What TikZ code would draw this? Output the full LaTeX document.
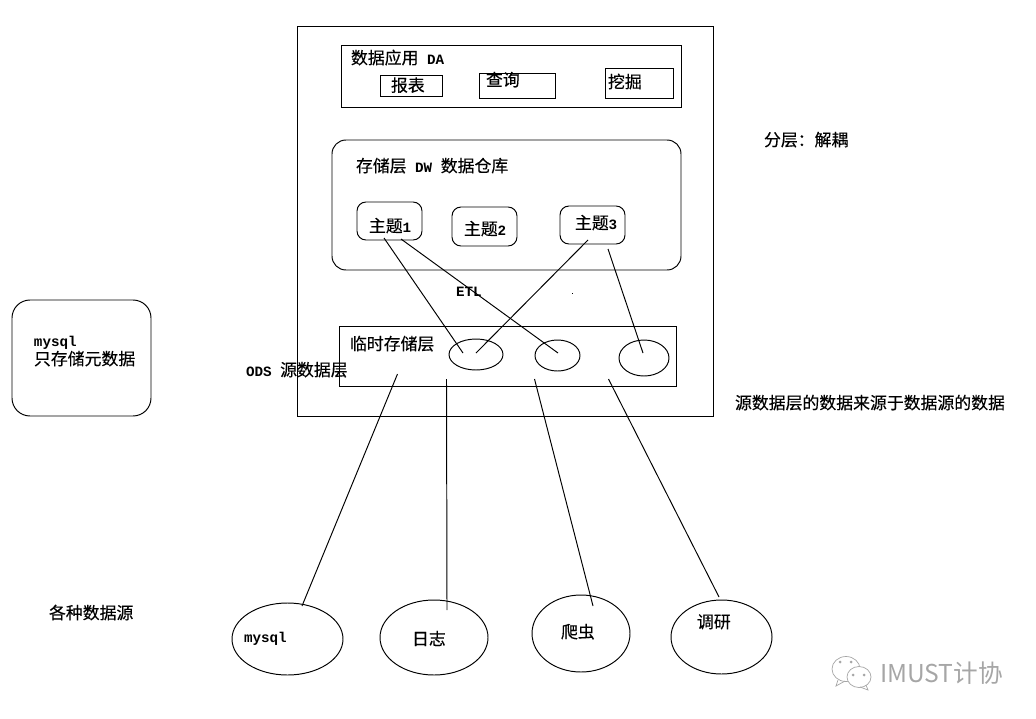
\documentclass[tikz,border=0pt]{standalone}
\usepackage{fontspec}
\setmainfont{Noto Sans CJK SC}[FakeBold=0.25]
\newfontfamily\latfont{Liberation Mono}
\newfontfamily\markfont{Noto Sans CJK SC}
\usepackage{tikz}
\usetikzlibrary{positioning,shapes.geometric}
\tikzset{
  wh/box/.style={draw, rectangle, line width=0.55pt, inner sep=0pt, outer sep=0pt},
  wh/panel/.style={wh/box, rounded corners=2.8mm},
  wh/topic/.style={wh/box, rounded corners=1.8mm},
  wh/meta/.style={wh/box, rounded corners=3.6mm},
  wh/oval/.style={draw, ellipse, line width=0.55pt, inner sep=0pt, outer sep=0pt},
  wh/line/.style={line width=0.55pt},
  wh/label/.style={inner sep=0pt, outer sep=0pt, text height=2.9mm, text depth=0.5mm, font=\fontsize{9.6pt}{11pt}\selectfont},
  wh/dot/.style={fill, rectangle, inner sep=0pt, minimum size=0.2mm},
  wh/mark/.style={draw=black!35, line width=0.4pt},
  wh/marktext/.style={inner sep=0pt, outer sep=0pt, text=black!35, font=\markfont\fontsize{14pt}{16pt}\selectfont}
}
\newcommand{\lat}[1]{{\latfont\bfseries\fontsize{8.1pt}{10pt}\selectfont #1}}

\begin{document}
\begin{tikzpicture}[x=0.2mm, y=-0.2mm]
  \useasboundingbox (0,0) rectangle (1036,718);

  \node[wh/box, minimum width=83.2mm, minimum height=78mm] (ws) at (505,221) {};

  \node[wh/box, below right=3.8mm and 8.8mm of ws.north west, minimum width=68mm, minimum height=12.4mm] (da) {};
  \node[wh/box, below right=6mm and 7.8mm of da.north west, minimum width=12.4mm, minimum height=4.2mm] (report) {};
  \node[wh/box, below right=5.6mm and 27.6mm of da.north west, minimum width=15.2mm, minimum height=5mm] (query) {};
  \node[wh/box, below right=4.6mm and 52.8mm of da.north west, minimum width=13.6mm, minimum height=6mm] (mine) {};
  \node[wh/label, right=2mm of da.west, yshift=3.6mm] (daname) {数据应用\lat{ DA}};
  \node[wh/label, right=2.2mm of report.west] (reportname) {报表};
  \node[wh/label, right=1.4mm of query.west, yshift=1.1mm] (queryname) {查询};
  \node[wh/label, right=0.6mm of mine.west, yshift=0.2mm] (minename) {挖掘};

  \node[wh/panel, below right=22.8mm and 7mm of ws.north west, minimum width=69.8mm, minimum height=26mm] (dw) {};
  \node[wh/label, right=4.8mm of dw.west, yshift=7.8mm] (dwname) {存储层\lat{ DW }数据仓库};
  \node[wh/topic, below right=12.4mm and 5mm of dw.north west, minimum width=13mm, minimum height=7.6mm] (topic1) {};
  \node[wh/topic, below right=13.4mm and 24mm of dw.north west, minimum width=13mm, minimum height=7.8mm] (topic2) {};
  \node[wh/topic, below right=13.2mm and 45.6mm of dw.north west, minimum width=13mm, minimum height=7.6mm] (topic3) {};
  \node[wh/label, right=2.4mm of topic1.west, yshift=-1mm] (topic1name) {主题\lat{1}};
  \node[wh/label, right=2.4mm of topic2.west, yshift=-0.5mm] (topic2name) {主题\lat{2}};
  \node[wh/label, right=3mm of topic3.west, yshift=0.4mm] (topic3name) {主题\lat{3}};
  \node[wh/label, right=24.8mm of dw.south west, yshift=-4.1mm] (etl) {\lat{ETL}};
  \node[wh/dot] (speck) at (572,293) {};

  \node[wh/box, below right=60mm and 8.4mm of ws.north west, minimum width=67.4mm, minimum height=12mm] (ods) {};
  \node[wh/label, right=2.2mm of ods.west, yshift=2.4mm] (odsname) {临时存储层};
  \node[wh/oval, right=22mm of ods.west, yshift=0.3mm, minimum width=10.8mm, minimum height=6.2mm] (ods1) {};
  \node[wh/oval, right=6.4mm of ods1, yshift=-0.2mm, minimum width=9mm, minimum height=6.2mm] (ods2) {};
  \node[wh/oval, right=7.8mm of ods2, yshift=-0.5mm, minimum width=10mm, minimum height=7.2mm] (ods3) {};
  \node[wh/label, anchor=west] (odslayer) at (246,370) {\lat{ODS }源数据层};

  \node[wh/meta, minimum width=27.8mm, minimum height=23.2mm] (meta) at (81.5,358) {};
  \node[wh/label, right=4.4mm of meta.west, yshift=3.6mm] (metadb) {\lat{mysql}};
  \node[wh/label, below=0.4mm of metadb.south west, anchor=north west] (metaname) {只存储元数据};

  \node[wh/label, anchor=west] (layering) at (764,140) {分层：解耦};
  \node[wh/label, anchor=west] (odsnote) at (735,403) {源数据层的数据来源于数据源的数据};
  \node[wh/label, anchor=west] (sources) at (49,613) {各种数据源};

  \node[wh/oval, minimum width=22.2mm, minimum height=14.4mm] (srcdb) at (287.5,639) {};
  \node[wh/oval, right=7.4mm of srcdb, yshift=0.3mm, minimum width=21.6mm, minimum height=15mm] (srclog) {};
  \node[wh/oval, right=8.8mm of srclog, yshift=0.8mm, minimum width=19.6mm, minimum height=15.4mm] (srccrawl) {};
  \node[wh/oval, right=8.2mm of srccrawl, yshift=-0.7mm, minimum width=20.2mm, minimum height=14.8mm] (srcsurvey) {};
  \node[wh/label, right=2.4mm of srcdb.west, yshift=0.6mm] (srcdbname) {\lat{mysql}};
  \node[wh/label, right=6.4mm of srclog.west, yshift=-0.3mm] (srclogname) {日志};
  \node[wh/label, right=5.8mm of srccrawl.west, yshift=0.3mm] (srccrawlname) {爬虫};
  \node[wh/label, right=5.2mm of srcsurvey.west, yshift=3mm] (srcsurveyname) {调研};

  \draw[wh/line] ([xshift=-1.1mm,yshift=0.4mm]topic1.south) -- ([xshift=-2.6mm,yshift=0.3mm]ods1.center);
  \draw[wh/line] ([xshift=2.3mm,yshift=0.2mm]topic1.south) -- ([xshift=0.1mm,yshift=0.5mm]ods2.center);
  \draw[wh/line] ([xshift=-0.9mm,yshift=0.8mm]topic3.south) -- ([yshift=0.3mm]ods1.center);
  \draw[wh/line] ([xshift=3.1mm,yshift=-1mm]topic3.south) -- ([xshift=-0.2mm,yshift=1mm]ods3.center);
  \draw[wh/line] ([xshift=-22mm,yshift=2.4mm]ods.south) -- ([xshift=2.9mm,yshift=-0.6mm]srcdb.north);
  \draw[wh/line] ([xshift=-12.2mm,yshift=1.4mm]ods.south) -- ([xshift=2.6mm,yshift=-2mm]srclog.north);
  \draw[wh/line] ([xshift=5.4mm,yshift=1.4mm]ods.south) -- ([xshift=2.4mm,yshift=-2.2mm]srccrawl.north);
  \draw[wh/line] ([xshift=20.2mm,yshift=1.4mm]ods.south) -- ([xshift=-0.5mm,yshift=0.6mm]srcsurvey.north);

  \draw[wh/mark] (846,669) ellipse [x radius=2.8mm, y radius=2.5mm];
  \draw[wh/mark, fill=white] (859,677) ellipse [x radius=2.4mm, y radius=2.1mm];
  \draw[wh/mark] (838,680) -- (836,686) -- (845,681);
  \draw[wh/mark] (866,685) -- (868,690) -- (860,687);
  \foreach \x/\y in {840/662,851/662,853/675,864/675}
    \fill[black!35] (\x,\y) circle [radius=0.3mm];
  \node[wh/marktext, anchor=west] (imust) at (880,673) {IMUST计协};
\end{tikzpicture}
\end{document}
